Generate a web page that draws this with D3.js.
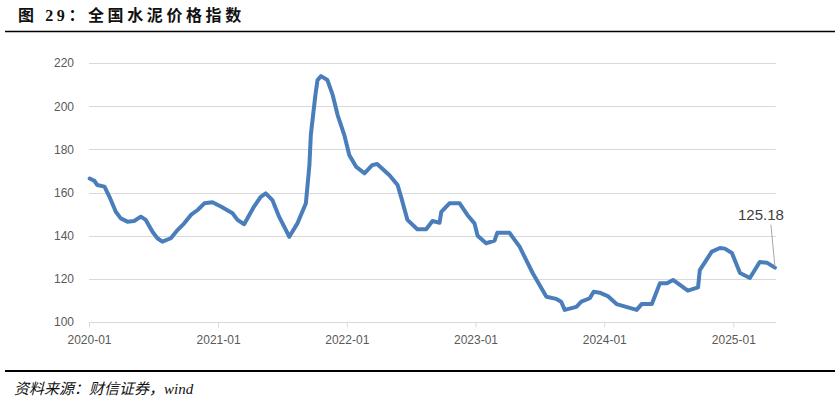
<!DOCTYPE html>
<html lang="zh">
<head>
<meta charset="UTF-8">
<title>全国水泥价格指数</title>
<script src="https://cdn.jsdelivr.net/npm/d3@7"></script>
<style>
  body { margin: 0; background: #fff; }
  svg { display: block; }
  .grid line { stroke: #d9d9d9; stroke-width: 1; }
  .axis text { fill: #595959; font-family: "Liberation Sans Narrow", "Liberation Sans", sans-serif; font-size: 12px; }
</style>
</head>
<body>
<div id="chart"></div>
<script>
// 周度数据
var dates = [
  "2020-01-03","2020-01-17","2020-01-24","2020-02-14","2020-02-28","2020-03-17","2020-03-31","2020-04-19",
  "2020-05-08","2020-05-27","2020-06-10","2020-06-29","2020-07-13","2020-07-27","2020-08-20","2020-09-08",
  "2020-09-27","2020-10-16","2020-11-04","2020-11-23","2020-12-16","2021-01-09","2021-02-11","2021-02-25",
  "2021-03-16","2021-04-13","2021-05-02","2021-05-16","2021-06-04","2021-06-23","2021-07-22","2021-08-14",
  "2021-09-07","2021-09-17","2021-09-21","2021-10-04","2021-10-10","2021-10-20","2021-11-07","2021-11-22",
  "2021-12-06","2021-12-25","2022-01-08","2022-01-27","2022-02-20","2022-03-14","2022-03-28","2022-04-15",
  "2022-05-02","2022-05-25","2022-06-04","2022-06-22","2022-07-20","2022-08-14","2022-09-01","2022-09-21",
  "2022-09-26","2022-10-19","2022-11-17","2022-12-09","2022-12-29","2023-01-07","2023-01-31","2023-02-24",
  "2023-03-04","2023-04-07","2023-05-06","2023-06-12","2023-07-21","2023-08-18","2023-09-01","2023-09-11",
  "2023-10-14","2023-10-28","2023-11-21","2023-12-02","2023-12-19","2024-01-11","2024-02-05","2024-04-02",
  "2024-04-16","2024-05-15","2024-06-07","2024-06-27","2024-07-14","2024-08-25","2024-09-23","2024-09-28",
  "2024-11-01","2024-11-24","2024-12-08","2024-12-28","2025-01-20","2025-02-17","2025-03-17","2025-04-06",
  "2025-04-29"
];
var values = [
  166.5,165.3,163.5,162.7,158.0,151.1,148.0,146.5,
  146.8,148.8,147.3,141.8,138.8,137.2,138.8,142.6,
  145.7,149.6,151.9,155.0,155.5,153.5,150.4,147.3,
  145.3,153.5,158.0,159.6,156.5,148.8,139.5,145.7,
  155.0,172.7,186.6,205.2,212.1,213.9,212.1,205.2,
  195.9,186.6,177.4,172.0,168.9,172.7,173.2,170.5,
  168.0,163.5,158.0,147.3,143.0,143.0,146.8,146.0,
  151.0,155.0,155.0,149.6,145.7,140.0,136.5,137.7,
  141.4,141.4,134.9,122.7,111.7,110.7,109.4,105.6,
  107.0,109.4,111.0,114.0,113.6,112.0,108.3,105.6,
  108.3,108.3,118.0,118.0,119.5,114.5,116.0,124.0,
  132.6,134.3,134.0,132.0,122.7,120.4,127.8,127.5,
  125.18
];
var yTicks = [100, 120, 140, 160, 180, 200, 220];
var xTicks = ["2020-01-01","2021-01-01","2022-01-01","2023-01-01","2024-01-01","2025-01-01"];
var lastLabel = "125.18";

var W = 840, H = 404;
var parse = d3.timeParse("%Y-%m-%d");
var data = dates.map(function(d, i) { return { date: parse(d), value: values[i] }; });

var svg = d3.select("#chart").append("svg").attr("width", W).attr("height", H);

// 标题
svg.append("text")
  .attr("x", 18).attr("y", 21)
  .attr("font-family", "'Liberation Serif', 'Noto Sans CJK SC', serif")
  .attr("font-weight", "bold").attr("font-size", 16)
  .attr("letter-spacing", 3.6)
  .attr("fill", "#111")
  .text("图 29：全国水泥价格指数");
svg.append("line").attr("x1", 5).attr("x2", 835).attr("y1", 31.5).attr("y2", 31.5)
  .attr("stroke", "#000").attr("stroke-width", 1.5);

var x = d3.scaleTime().domain([parse("2020-01-01"), parse("2025-01-01")]).range([89, 733.3]);
var y = d3.scaleLinear().domain([100, 220]).range([322, 63]);
var xEnd = x(data[data.length - 1].date);

// 网格线
svg.append("g").attr("class", "grid")
  .selectAll("line").data(yTicks).enter().append("line")
  .attr("x1", 89).attr("x2", xEnd + 1)
  .attr("y1", function(d) { return Math.round(y(d)) + 0.5; })
  .attr("y2", function(d) { return Math.round(y(d)) + 0.5; });

// y 轴
var yAxis = svg.append("g").attr("class", "axis").attr("transform", "translate(74,0)")
  .call(d3.axisLeft(y).tickValues(yTicks).tickSize(0).tickPadding(0));
yAxis.select(".domain").remove();

// x 轴
var xAxis = svg.append("g").attr("class", "axis").attr("transform", "translate(0,322.5)")
  .call(d3.axisBottom(x).tickValues(xTicks.map(parse)).tickSize(5).tickPadding(8)
    .tickFormat(d3.timeFormat("%Y-%m")));
xAxis.select(".domain").attr("d", "M89,0H" + (xEnd + 1)).attr("stroke", "#d9d9d9");
xAxis.selectAll(".tick line").attr("stroke", "#d9d9d9");
xAxis.selectAll(".tick text").attr("font-size", 11);

// 折线
var line = d3.line()
  .x(function(d) { return x(d.date); })
  .y(function(d) { return y(d.value); });
svg.append("path").datum(data)
  .attr("d", line)
  .attr("fill", "none")
  .attr("stroke", "#4a7ebb")
  .attr("stroke-width", 4)
  .attr("stroke-linejoin", "round")
  .attr("stroke-linecap", "round");

// 末值标注
var last = data[data.length - 1];
svg.append("line")
  .attr("x1", x(last.date) - 4).attr("y1", y(last.value) - 43)
  .attr("x2", x(last.date)).attr("y2", y(last.value) - 1)
  .attr("stroke", "#a6a6a6").attr("stroke-width", 1);
svg.append("text")
  .attr("x", x(last.date) - 14).attr("y", y(last.value) - 48)
  .attr("text-anchor", "middle")
  .attr("font-family", "'Liberation Sans', sans-serif").attr("font-size", 15)
  .attr("fill", "#404040")
  .text(lastLabel);

// 底部来源
svg.append("line").attr("x1", 5).attr("x2", 835).attr("y1", 371).attr("y2", 371)
  .attr("stroke", "#000").attr("stroke-width", 2);
svg.append("text")
  .attr("x", 14).attr("y", 394)
  .attr("font-family", "'Liberation Serif', 'Noto Sans CJK SC', serif")
  .attr("font-style", "italic").attr("font-size", 15)
  .attr("fill", "#111")
  .text("资料来源：财信证券，wind");
</script>
</body>
</html>
